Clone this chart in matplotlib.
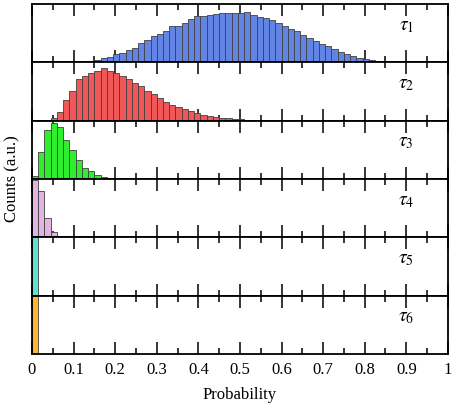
import matplotlib
matplotlib.use('Agg')
import matplotlib.pyplot as plt
import numpy as np

plt.rcParams['font.family'] = ['Liberation Serif', 'DejaVu Serif']
plt.rcParams['mathtext.fontset'] = 'stix'

# histogram bins (width 0.015), heights in a.u.
bin_width = 0.015

tau1 = [0, 0, 0, 0, 0, 0, 0, 0, 0.3, 0.7, 2, 4, 5.3, 8, 9.7, 12.7, 14.7, 19.3,
        22.3, 26.7, 28.7, 31.7, 36, 36.7, 39.7, 43.7, 46, 46, 47.3, 48.3, 49.3,
        49, 49, 49.7, 50.3, 47.7, 45.3, 44, 42, 39.3, 36.7, 33.3, 31.3, 27.7,
        24.7, 21.3, 18.7, 16, 13, 10.3, 8.7, 6.3, 4.3, 3, 2, 1, 0.3]
tau2 = [0.3, 0.3, 1, 2.7, 8.7, 20.7, 30, 41.3, 44.7, 47.3, 49.3, 52.7, 50, 48,
        44.7, 41.7, 38, 35, 30, 26.7, 23, 18.7, 16, 14, 11.7, 10, 7.7, 6, 5,
        3.7, 3, 2.3, 1.7, 1.3, 1, 0.7, 0.3]
tau3 = [3, 27.3, 49.3, 56, 52, 39.3, 28.7, 19.3, 10.7, 8.3, 4, 2.3, 1.3, 0.3]
tau4 = [57, 45.7, 19, 5.3, 1, 0.3]
tau5 = [58, 0.3]
tau6 = [58]

series = [tau1, tau2, tau3, tau4, tau5, tau6]
labels = [r'$\tau_1$', r'$\tau_2$', r'$\tau_3$', r'$\tau_4$', r'$\tau_5$', r'$\tau_6$']
colors = ['#6284E4', '#F25757', '#2EEE2E', '#E2B4E2', '#5EE0D2', '#FFB52E']

fig, axes = plt.subplots(6, 1, sharex=True, figsize=(4.57, 4.16), dpi=100,
                         gridspec_kw=dict(hspace=0))
fig.subplots_adjust(left=0.070, right=0.980, bottom=0.149, top=0.990)

for ax, vals, lab, col in zip(axes, series, labels, colors):
    left = np.arange(len(vals)) * bin_width
    ax.bar(left, vals, width=bin_width, align='edge', color=col,
           edgecolor='#404040', linewidth=0.6)
    ax.set_axisbelow(True)
    ax.set_xlim(0, 1)
    ax.set_ylim(0, 58)
    ax.set_yticks([])
    ax.set_xticks(np.arange(0, 1.01, 0.1))
    ax.set_xticks(np.arange(0.05, 1.0, 0.1), minor=True)
    ax.tick_params(axis='x', which='both', direction='in', top=True, bottom=True,
                   width=1.1, labelsize=12, pad=6)
    ax.tick_params(axis='x', which='major', length=8.4)
    ax.tick_params(axis='x', which='minor', length=4.1)
    for s in ax.spines.values():
        s.set_linewidth(1.3)
    ax.text(0.9, 0.62, lab, transform=ax.transAxes, ha='center', va='center',
            fontsize=14)

axes[-1].set_xticklabels(['0', '0.1', '0.2', '0.3', '0.4', '0.5', '0.6', '0.7',
                          '0.8', '0.9', '1'])
axes[-1].set_xlabel('Probability', fontsize=12, labelpad=6)
fig.text(0.028, 0.57, 'Counts (a.u.)', rotation=90, ha='center', va='center',
         fontsize=12)

fig.savefig('out.png', dpi=100)
